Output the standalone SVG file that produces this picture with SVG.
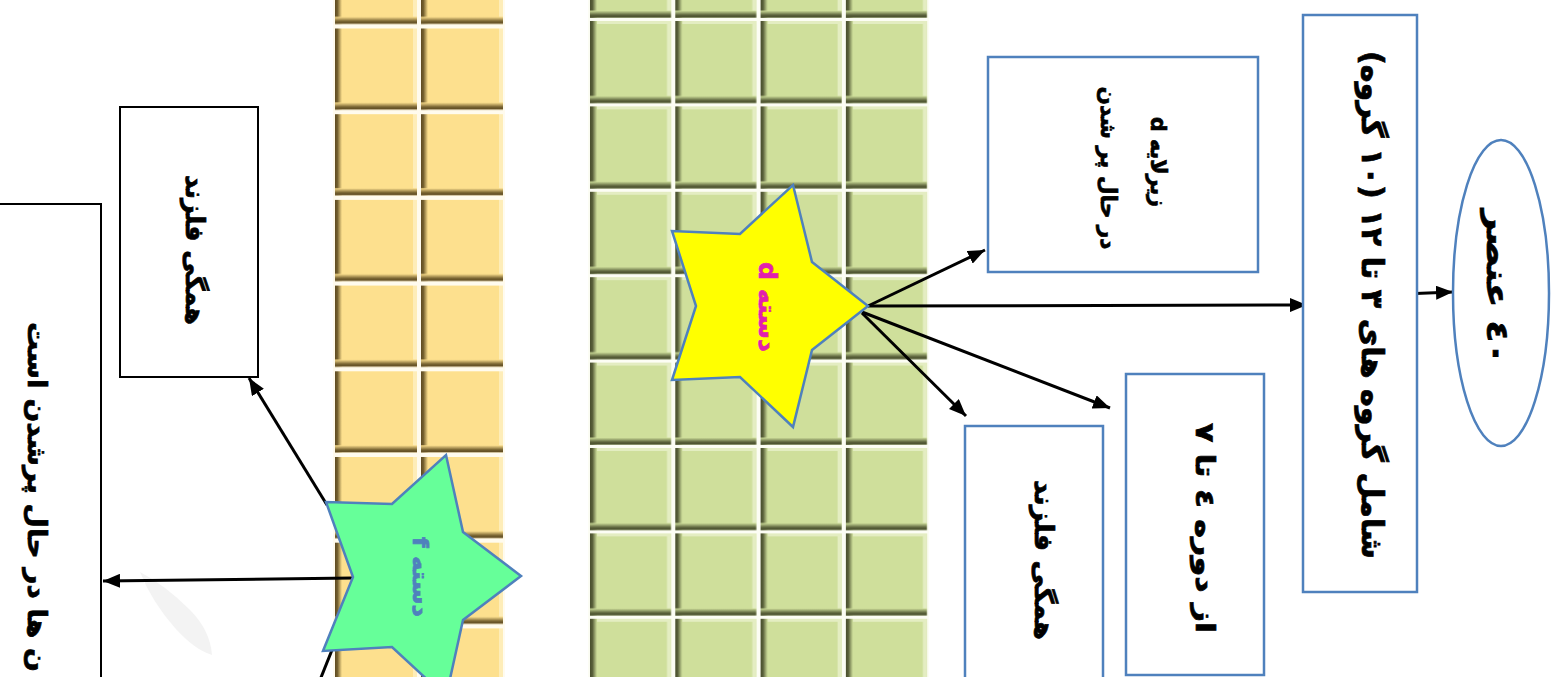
<svg xmlns="http://www.w3.org/2000/svg" width="1559" height="677" viewBox="0 0 1559 677">
<style>
.bb{fill:#fff;stroke:#4F81BD;stroke-width:2.5}
.bk{fill:#fff;stroke:#000;stroke-width:2}
.t{font-family:"DejaVu Sans",sans-serif;font-weight:bold;direction:rtl;unicode-bidi:embed;text-anchor:middle;dominant-baseline:central;fill:#000;stroke:#000;stroke-width:0.7}
.conn line{stroke:#000;stroke-width:3}
</style>
<defs>
<linearGradient id="gL" x1="0" y1="0" x2="1" y2="0"><stop offset="0" stop-color="#474D2C"/><stop offset="0.35" stop-color="#59603A"/><stop offset="1" stop-color="#CFDF9B"/></linearGradient>
<linearGradient id="gB" x1="0" y1="1" x2="0" y2="0"><stop offset="0" stop-color="#474D2C"/><stop offset="0.35" stop-color="#59603A"/><stop offset="1" stop-color="#CFDF9B"/></linearGradient>
<linearGradient id="oL" x1="0" y1="0" x2="1" y2="0"><stop offset="0" stop-color="#5E4A22"/><stop offset="0.35" stop-color="#74602F"/><stop offset="1" stop-color="#FDE08E"/></linearGradient>
<linearGradient id="oB" x1="0" y1="1" x2="0" y2="0"><stop offset="0" stop-color="#5E4A22"/><stop offset="0.35" stop-color="#74602F"/><stop offset="1" stop-color="#FDE08E"/></linearGradient>
<pattern id="greenTiles" patternUnits="userSpaceOnUse" x="588" y="19" width="85.3" height="85.4">
<rect x="0" y="0" width="85.3" height="85.4" fill="#FCFDF4"/>
<rect x="2" y="2" width="81" height="82" fill="#CFDF9B"/>
<rect x="79" y="2" width="4" height="82" fill="#E4EDC2"/>
<rect x="2" y="2" width="81" height="3" fill="#E4EDC2"/>
<rect x="2" y="2" width="7" height="82" fill="url(#gL)"/>
<rect x="2" y="77" width="81" height="7" fill="url(#gB)"/>
</pattern>
<pattern id="orangeTiles" patternUnits="userSpaceOnUse" x="333" y="26.5" width="86" height="85.7">
<rect x="0" y="0" width="86" height="85.7" fill="#FFFBEE"/>
<rect x="2" y="2" width="82" height="81" fill="#FDE08E"/>
<rect x="80" y="2" width="4" height="81" fill="#FEEDB8"/>
<rect x="2" y="2" width="7" height="81" fill="url(#oL)"/>
<rect x="2" y="76" width="82" height="7" fill="url(#oB)"/>
</pattern>
<marker id="ah" markerUnits="userSpaceOnUse" markerWidth="18" markerHeight="14" refX="17" refY="7" orient="auto">
<path d="M0,0 L17,7 L0,14 z" fill="#000"/>
</marker>
</defs>
<rect x="0" y="0" width="1559" height="677" fill="#fff"/>
<g id="background">
<rect x="333" y="0" width="172" height="677" fill="url(#orangeTiles)"/>
<rect x="588" y="0" width="341" height="677" fill="url(#greenTiles)"/>
<path d="M140,572 Q165,585 190,610 Q210,630 212,655 Q195,650 175,628 Q152,602 140,572 z" fill="#F3F3F3"/>
</g>
<g class="conn" id="connectors">
<line x1="1403" y1="294" x2="1453" y2="292" marker-end="url(#ah)"/>
<line x1="868" y1="306" x2="985" y2="250" marker-end="url(#ah)"/>
<line x1="868" y1="306" x2="1307" y2="305" marker-end="url(#ah)"/>
<line x1="862" y1="312" x2="1110" y2="408" marker-end="url(#ah)"/>
<line x1="862" y1="313" x2="966" y2="416" marker-end="url(#ah)"/>
<line x1="327" y1="505" x2="249" y2="378" marker-end="url(#ah)"/>
<line x1="353" y1="578" x2="103" y2="581" marker-end="url(#ah)"/>
<line x1="332" y1="650" x2="316" y2="690"/>
</g>
<g id="n-elements">
<ellipse cx="1501" cy="293" rx="48" ry="153" class="bb"/>
<text class="t" font-size="30" transform="translate(1497,287) rotate(90)" textLength="155" lengthAdjust="spacingAndGlyphs">٤٠ عنصر</text>
</g>
<g id="n-groups">
<rect x="1303" y="15" width="114" height="577" class="bb"/>
<text class="t" font-size="30" transform="translate(1372,305) rotate(90)" textLength="508" lengthAdjust="spacingAndGlyphs">شامل گروه های ٣ تا ١٢ (١٠ گروه)</text>
</g>
<g id="n-sublayer">
<rect x="988" y="57" width="270" height="215" class="bb"/>
<text class="t" font-size="22" transform="translate(1158,162) rotate(90)" textLength="90" lengthAdjust="spacingAndGlyphs">زیرلایه d</text>
<text class="t" font-size="22" transform="translate(1108,168) rotate(90)" textLength="163" lengthAdjust="spacingAndGlyphs">در حال پر شدن</text>
</g>
<g id="n-period">
<rect x="1126" y="374" width="138" height="301" class="bb"/>
<text class="t" font-size="26" transform="translate(1205,528) rotate(90)" textLength="210" lengthAdjust="spacingAndGlyphs">از دوره ٤ تا ٧</text>
</g>
<g id="n-metals-d">
<rect x="965" y="426" width="138" height="270" class="bb"/>
<text class="t" font-size="26" transform="translate(1044,560) rotate(90)" textLength="160" lengthAdjust="spacingAndGlyphs">همگی فلزند</text>
</g>
<g id="n-star-d">
<polygon points="793,185 812,262 868,306 812,350 793,427 740,377 672,380 696,306 672,231 740,234" fill="#FFFF00" stroke="#4F81BD" stroke-width="2.5"/>
<text class="t" font-size="24" style="fill:#E21FAE;stroke:#E21FAE" transform="translate(767,307) rotate(90)" textLength="90" lengthAdjust="spacingAndGlyphs">دسته d</text>
</g>
<g id="n-star-f">
<polygon points="446,455 463,532 521,576 463,620 446,697 392,647 323,651 353,577 326,502 392,504" fill="#66FF99" stroke="#4F81BD" stroke-width="2.5"/>
<text class="t" font-size="22" style="fill:#4F81BD;stroke:#4F81BD" transform="translate(420,577) rotate(90)" textLength="80" lengthAdjust="spacingAndGlyphs">دسته f</text>
</g>
<g id="n-metals-f">
<rect x="120" y="107" width="138" height="270" class="bk"/>
<text class="t" font-size="26" transform="translate(195,250) rotate(90)" textLength="150" lengthAdjust="spacingAndGlyphs">همگی فلزند</text>
</g>
<g id="n-filling">
<rect x="-10" y="204" width="111" height="500" class="bk"/>
<text class="t" font-size="26" transform="translate(37,497) rotate(90)" textLength="350" lengthAdjust="spacingAndGlyphs">ن ها در حال پرشدن است</text>
</g>
</svg>
